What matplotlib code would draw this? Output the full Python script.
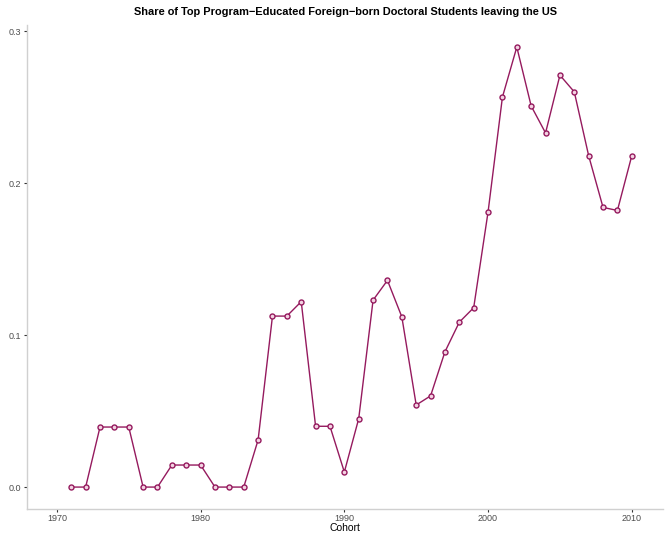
import matplotlib
matplotlib.use('Agg')
import matplotlib.pyplot as plt

# cohort years and share leaving the US
years = list(range(1971, 2011))
share = [0.0, 0.0, 0.0395, 0.0395, 0.0395, 0.0, 0.0, 0.0145, 0.0145, 0.0145,
         0.0, 0.0, 0.0, 0.031, 0.1125, 0.1125, 0.122, 0.040, 0.040, 0.0099,
         0.045, 0.123, 0.136, 0.112, 0.054, 0.060, 0.089, 0.1085, 0.118, 0.181,
         0.2566, 0.2895, 0.2507, 0.233, 0.271, 0.260, 0.218, 0.184, 0.182, 0.218]
xticks = [1970, 1980, 1990, 2000, 2010]
yticks = [0.0, 0.1, 0.2, 0.3]
ytick_labels = ['0.0', '0.1', '0.2', '0.3']

plt.rcParams['font.family'] = ['Liberation Sans', 'DejaVu Sans']

f = plt.figure(figsize=(6.65, 5.36), dpi=100)
ax = f.add_axes([0.0406, 0.0513, 0.957, 0.902])

line_col = '#951a5e'
ax.plot(years, share, color=line_col, linewidth=1.0, marker='o', markersize=3.6,
        markerfacecolor='#f3d3e2', markeredgecolor=line_col, markeredgewidth=1.0)

ax.set_xlim(1967.92, 2012.2)
ax.set_ylim(-0.0141, 0.304)
ax.set_xticks(xticks)
ax.set_yticks(yticks)
ax.set_yticklabels(ytick_labels)

for s in ['top', 'right']:
    ax.spines[s].set_visible(False)
for s in ['left', 'bottom']:
    ax.spines[s].set_color('#d0d0d0')
    ax.spines[s].set_linewidth(1.0)

ax.tick_params(axis='both', length=2.5, width=0.8, color='#333333',
               labelsize=6.5, labelcolor='#4d4d4d', pad=1.5)

ax.set_xlabel('Cohort', fontsize=7.5, labelpad=0)
ax.set_title('Share of Top Program\u2212Educated Foreign\u2212born Doctoral Students leaving the US',
             fontsize=7.9, fontweight='bold', pad=7)

f.savefig('out.png', dpi=100)
